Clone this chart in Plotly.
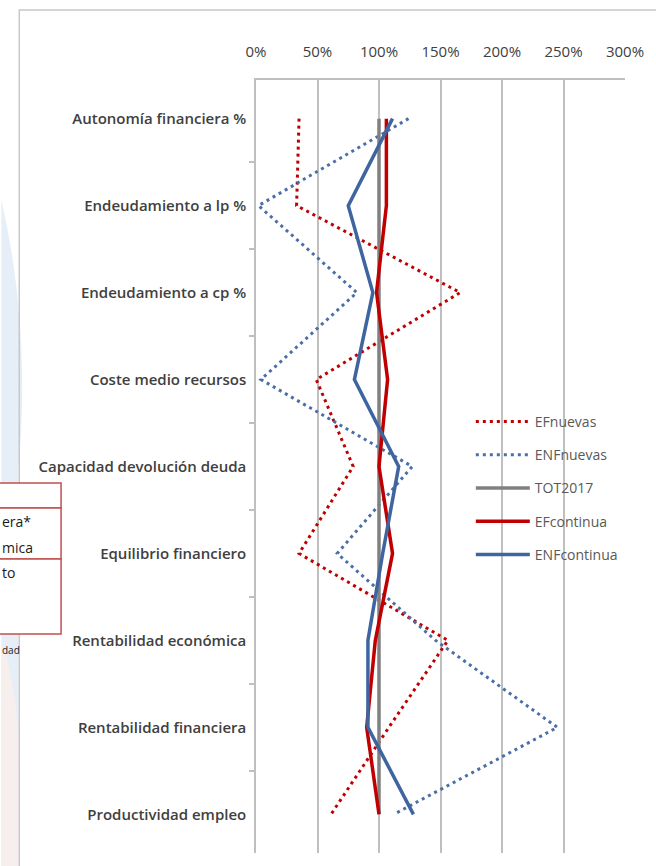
import plotly.graph_objects as go

categories = [
    "Autonomía financiera %",
    "Endeudamiento a lp %",
    "Endeudamiento a cp %",
    "Coste medio recursos",
    "Capacidad devolución deuda",
    "Equilibrio financiero",
    "Rentabilidad económica",
    "Rentabilidad financiera",
    "Productividad empleo",
]
ef_nuevas = [35, 33, 166, 49, 79, 35, 156, 108, 61]
enf_nuevas = [124, 2, 82, 4, 127, 66, 146, 245, 112]
tot2017 = [100, 100, 100, 100, 100, 100, 100, 100, 100]
ef_continua = [106, 106, 98, 107, 100, 111, 97, 90, 100]
enf_continua = [111, 75, 95, 80, 116, 103, 91, 91, 128]

x_ticks = [0, 50, 100, 150, 200, 250, 300]

W, H = 656, 866
L, R, T, B = 256, 627, 80, 853


def px(x):
    return (x - L) / (R - L)


def py(y):
    return (B - y) / (B - T)


RED = "#c00000"
BLUE = "#3f65a0"
BLUE_DOT = "#4a6ea8"
GRAY = "#808080"

fig = go.Figure()
series = [
    ("EFnuevas", ef_nuevas, RED, "3px,4px", 3),
    ("ENFnuevas", enf_nuevas, BLUE_DOT, "3px,4px", 3),
    ("TOT2017", tot2017, GRAY, "solid", 3.5),
    ("EFcontinua", ef_continua, RED, "solid", 3.5),
    ("ENFcontinua", enf_continua, BLUE, "solid", 3.5),
]
for name, vals, col, dash, w in series:
    fig.add_trace(go.Scatter(
        x=vals, y=categories, mode="lines", name=name, legendgroup=name,
        line=dict(color=col, dash=dash, width=w),
    ))

font_family = "Open Sans, Liberation Sans, sans-serif"

shapes = []
# light blue background strip (document behind the chart)
shapes.append(dict(type="path", xref="paper", yref="paper",
                   path=f"M {px(0)},{py(200)} Q {px(30)},{py(330)} {px(17)},{py(470)} "
                        f"L {px(17)},{py(866)} L {px(0)},{py(866)} Z",
                   fillcolor="#e6eef8", line=dict(width=0), layer="below"))
shapes.append(dict(type="path", xref="paper", yref="paper",
                   path=f"M {px(0)},{py(640)} Q {px(20)},{py(700)} {px(17)},{py(780)} "
                        f"L {px(17)},{py(866)} L {px(0)},{py(866)} Z",
                   fillcolor="#f7eeee", line=dict(width=0), layer="below"))
# chart frame
shapes.append(dict(type="rect", xref="paper", yref="paper",
                   x0=px(18), x1=px(700), y0=py(10), y1=py(900),
                   line=dict(color="#c8c8c8", width=1.5), fillcolor="rgba(0,0,0,0)",
                   layer="below"))
# overlapping table on the left
tb_x0, tb_x1 = px(-5), px(60)
rows = [(483, 508), (508, 559), (559, 634)]
for y0, y1 in rows:
    shapes.append(dict(type="rect", xref="paper", yref="paper",
                       x0=tb_x0, x1=tb_x1, y0=py(y0), y1=py(y1),
                       line=dict(color="#c0504d", width=1.5), fillcolor="white"))

annotations = [
    dict(text="era*", x=px(-1), y=py(521), xref="paper", yref="paper",
         xanchor="left", yanchor="middle", showarrow=False,
         font=dict(family=font_family, size=14, color="#1a1a1a")),
    dict(text="mica", x=px(-1), y=py(547), xref="paper", yref="paper",
         xanchor="left", yanchor="middle", showarrow=False,
         font=dict(family=font_family, size=14, color="#1a1a1a")),
    dict(text="to", x=px(-1), y=py(572), xref="paper", yref="paper",
         xanchor="left", yanchor="middle", showarrow=False,
         font=dict(family=font_family, size=14, color="#1a1a1a")),
    dict(text="dad", x=px(-1), y=py(650), xref="paper", yref="paper",
         xanchor="left", yanchor="middle", showarrow=False,
         font=dict(family=font_family, size=10, color="#1a1a1a")),
]

fig.update_layout(
    width=W, height=H,
    margin=dict(l=L, r=W - R, t=T, b=H - B, pad=0),
    paper_bgcolor="white", plot_bgcolor="white",
    showlegend=True,
    legend=dict(x=px(472), y=py(406), xanchor="left", yanchor="top",
                bgcolor="rgba(0,0,0,0)", tracegroupgap=12,
                font=dict(family=font_family, size=14, color="#595959"),
                itemwidth=54),
    shapes=shapes,
    annotations=annotations,
    font=dict(family=font_family),
)
fig.update_xaxes(
    side="top", range=[0, 300], tickvals=x_ticks,
    ticktext=[f"{v}%" for v in x_ticks],
    showgrid=True, gridcolor="#bfbfbf", gridwidth=1.5,
    showline=True, linecolor="#bfbfbf", linewidth=1.5,
    zeroline=False, ticks="", ticklabelstandoff=15,
    tickfont=dict(family=font_family, size=15, color="#404040"),
    fixedrange=True,
)
fig.update_yaxes(
    type="category", categoryorder="array", categoryarray=categories,
    autorange="reversed", showgrid=False,
    showline=True, linecolor="#bfbfbf", linewidth=1.5,
    ticks="outside", tickson="boundaries", ticklen=5, tickcolor="#bfbfbf", tickwidth=1.5,
    ticklabelstandoff=5,
    tickfont=dict(family=font_family, size=15, color="#404040", weight=600),
    fixedrange=True,
)

fig.write_html("out.html")
